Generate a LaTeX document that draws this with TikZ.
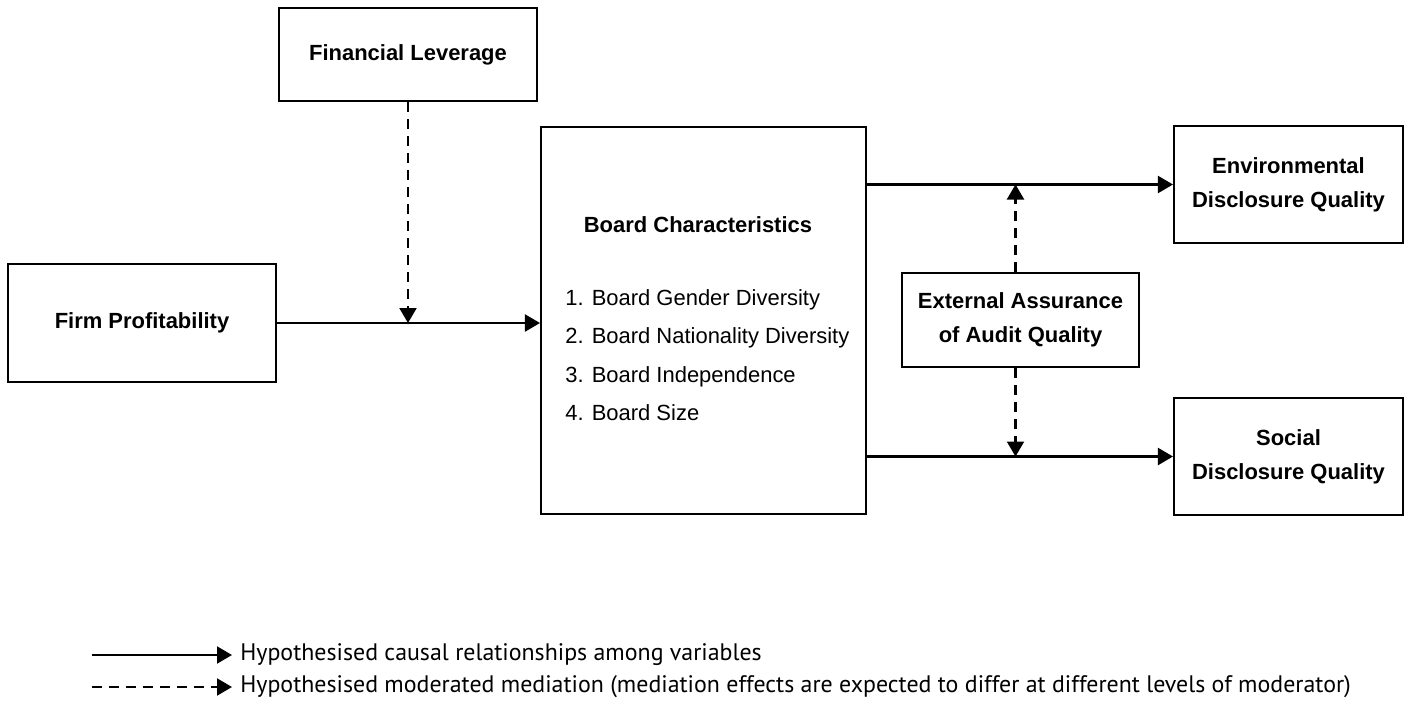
\documentclass[tikz,border=0pt]{standalone}
\usepackage{fontspec}
\setmainfont{Liberation Sans}
\newfontfamily\legendfont{PT Sans}
\usetikzlibrary{arrows.meta}

\begin{document}
\begin{tikzpicture}[x=0.02cm, y=-0.02cm,
        box/.style={draw, line width=1.2pt, inner sep=0pt, align=center, font=\fontsize{12.5}{19.3}\selectfont\bfseries},
        listitem/.style={anchor=base west, inner sep=0pt, font=\fontsize{12.5}{15}\selectfont},
        causal/.style={line width=1.2pt, -{Triangle[length=0.3cm, width=0.34cm]}},
        moderated/.style={causal, dash pattern=on 0.2cm off 0.14cm},
        legtext/.style={anchor=west, inner sep=0pt, font=\legendfont\fontsize{13.6}{16}\selectfont}]
        \useasboundingbox (0,0) rectangle (1410,711);

        % variables
        \node[box, minimum width=5.16cm, minimum height=1.86cm] (finlev) at (408,54.5) {Financial Leverage};
        \node[box, minimum width=5.36cm, minimum height=2.36cm] (firmprof) at (142,323) {Firm Profitability};
        \node[box, minimum width=6.5cm, minimum height=7.74cm] (board) at (703.5,320.5) {};
        \node[box, minimum width=4.74cm, minimum height=1.88cm] (extassur) at (1020.5,320) {External Assurance\\of Audit Quality};
        \node[box, minimum width=4.58cm, minimum height=2.34cm] (envdq) at (1288.5,184.5) {Environmental\\Disclosure Quality};
        \node[box, minimum width=4.58cm, minimum height=2.34cm] (socdq) at (1288.5,456.5) {Social\\Disclosure Quality};

        % inside the board box
        \node[listitem, anchor=base, font=\fontsize{12.5}{15}\selectfont\bfseries] (boardtitle) at (698,232) {Board Characteristics};
        \foreach \i/\txt in {1/Board Gender Diversity, 2/Board Nationality Diversity, 3/Board Independence, 4/Board Size}
            \node[listitem] (item\i) at (565,266.5+38.5*\i) {\i. \txt};

        % moderator lines sit a little left of the box centre
        \coordinate (modtop) at ([xshift=-0.1cm]extassur.north);
        \coordinate (modbot) at ([xshift=-0.1cm]extassur.south);

        % paths
        \draw[causal] (firmprof.east) -- (firmprof.east -| board.west);
        \draw[causal] (board.east |- envdq.west) -- (envdq.west);
        \draw[causal] (board.east |- socdq.west) -- (socdq.west);
        \draw[moderated] (finlev.south) -- (finlev.south |- firmprof.east);
        \draw[moderated] (modtop) -- (modtop |- envdq.west);
        \draw[moderated] (modbot) -- (modbot |- socdq.west);

        % legend
        \coordinate (solidstart) at (92,655);
        \coordinate (solidend) at (232,655);
        \coordinate (dashstart) at (92,687);
        \coordinate (dashend) at (232,687);
        \node[legtext] (solidtext) at (240,655) {Hypothesised causal relationships among variables};
        \node[legtext] (dashtext) at (240,687) {Hypothesised moderated mediation (mediation effects are expected to differ at different levels of moderator)};
        \draw[causal] (solidstart) -- (solidend);
        \draw[moderated] (dashstart) -- (dashend);
\end{tikzpicture}
\end{document}
